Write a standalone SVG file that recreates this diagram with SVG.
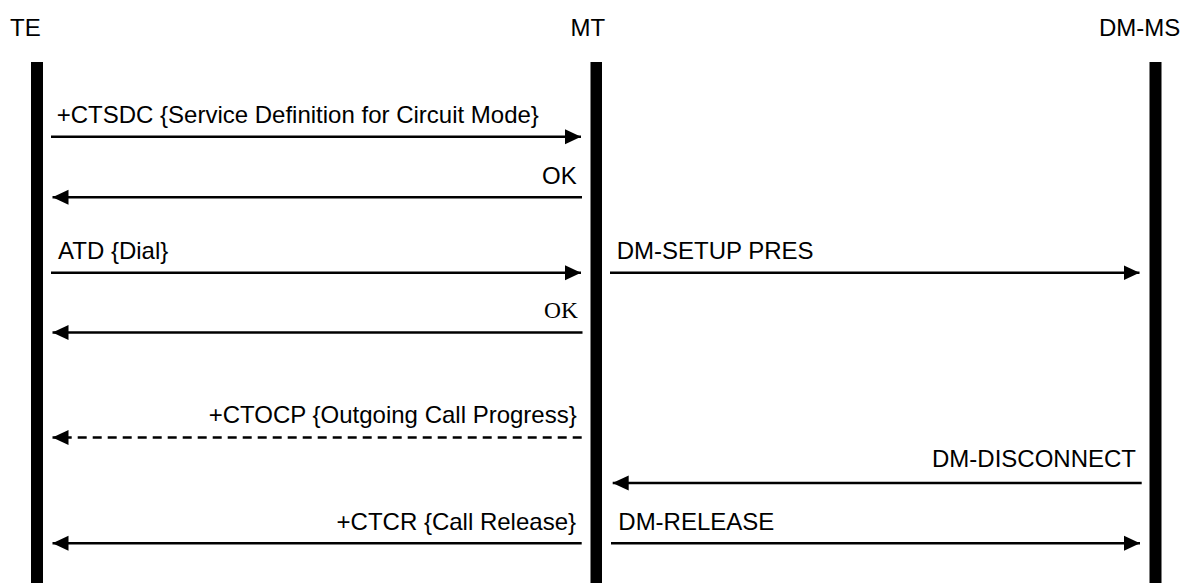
<svg xmlns="http://www.w3.org/2000/svg" width="1192" height="583" viewBox="0 0 1192 583">
  <style>
    .lbl { font-family: "Liberation Sans", Arial, sans-serif; font-size: 24px; fill: #000; }
    .serif { font-family: "Liberation Serif", "Times New Roman", serif; font-size: 23.5px; fill: #000; }
    .life { fill: #000; }
    .msg { stroke: #000; stroke-width: 2.6; fill: none; }
    .dash { stroke-dasharray: 9 6; }
  </style>
  <defs>
    <marker id="ah" markerUnits="userSpaceOnUse" markerWidth="16" markerHeight="16" refX="16" refY="8" orient="auto">
      <polygon points="0,0.5 16,8 0,15.5" fill="#000"/>
    </marker>
  </defs>
  <rect width="1192" height="583" fill="#fff"/>

  <g id="node-TE">
    <text class="lbl" x="10" y="36">TE</text>
    <rect class="life" x="31" y="62" width="12" height="521"/>
  </g>
  <g id="node-MT">
    <text class="lbl" x="570.5" y="36">MT</text>
    <rect class="life" x="590.5" y="62" width="11.5" height="521"/>
  </g>
  <g id="node-DM-MS">
    <text class="lbl" x="1099" y="36">DM-MS</text>
    <rect class="life" x="1149.5" y="62" width="12" height="521"/>
  </g>

  <g id="connectors">
    <g id="m1">
      <line class="msg" x1="51" y1="136.7" x2="581" y2="136.7" marker-end="url(#ah)"/>
      <text class="lbl" x="56.7" y="123.3">+CTSDC {Service Definition for Circuit Mode}</text>
    </g>
    <g id="m2">
      <line class="msg" x1="582" y1="197.3" x2="52.5" y2="197.3" marker-end="url(#ah)"/>
      <text class="lbl" x="576.7" y="184.3" text-anchor="end">OK</text>
    </g>
    <g id="m3">
      <line class="msg" x1="51" y1="272.7" x2="581" y2="272.7" marker-end="url(#ah)"/>
      <text class="lbl" x="58" y="259">ATD {Dial}</text>
    </g>
    <g id="m4">
      <line class="msg" x1="610" y1="272.7" x2="1139.5" y2="272.7" marker-end="url(#ah)"/>
      <text class="lbl" x="616.7" y="259.3">DM-SETUP PRES</text>
    </g>
    <g id="m5">
      <line class="msg" x1="582.5" y1="332.5" x2="52.5" y2="332.5" marker-end="url(#ah)"/>
      <text class="serif" x="578" y="318.3" text-anchor="end">OK</text>
    </g>
    <g id="m6">
      <line class="msg dash" x1="581.7" y1="437.5" x2="52.5" y2="437.5" marker-end="url(#ah)"/>
      <text class="lbl" x="576.7" y="422.7" text-anchor="end">+CTOCP {Outgoing Call Progress}</text>
    </g>
    <g id="m7">
      <line class="msg" x1="1141.7" y1="483" x2="612.7" y2="483" marker-end="url(#ah)"/>
      <text class="lbl" x="1136" y="466.7" text-anchor="end">DM-DISCONNECT</text>
    </g>
    <g id="m8">
      <line class="msg" x1="581.7" y1="543.3" x2="52.5" y2="543.3" marker-end="url(#ah)"/>
      <text class="lbl" x="576" y="529.8" text-anchor="end">+CTCR {Call Release}</text>
    </g>
    <g id="m9">
      <line class="msg" x1="611" y1="543.3" x2="1140" y2="543.3" marker-end="url(#ah)"/>
      <text class="lbl" x="618.3" y="530">DM-RELEASE</text>
    </g>
  </g>
</svg>
